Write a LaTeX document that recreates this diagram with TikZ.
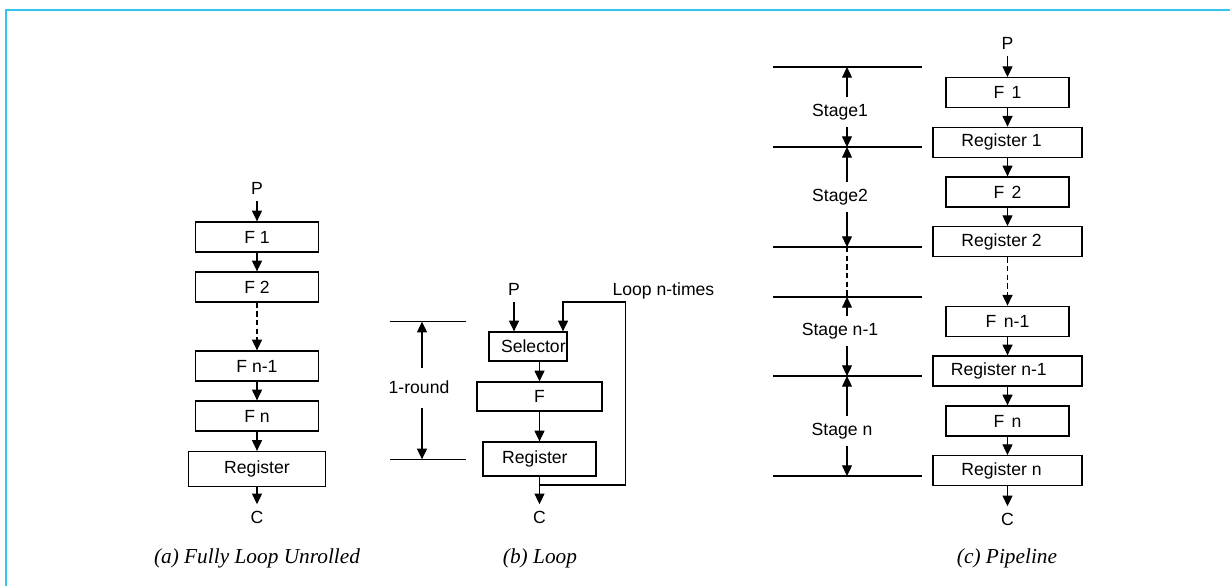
\documentclass[tikz,border=0pt]{standalone}
\usepackage{fontspec}
\setmainfont{Liberation Serif}
\setsansfont{Liberation Sans}
\usetikzlibrary{arrows.meta}
\definecolor{framecyan}{RGB}{51,197,238}
\newcommand\pxu{0.75pt}
\begin{document}
\begin{tikzpicture}[x=0.75pt,y=-0.75pt,
  line width=0.8pt,
  lbl/.style={font=\sffamily\fontsize{13.2}{15}\selectfont},
  txt/.style={lbl, inner sep=6*\pxu},
  blk/.style={lbl, draw, line width=1pt, inner sep=0pt},
  fa/.style={blk, minimum width=123*\pxu, minimum height=30*\pxu},
  ra/.style={blk, minimum width=137*\pxu, minimum height=35*\pxu},
  selbox/.style={blk, minimum width=78*\pxu, minimum height=29*\pxu},
  fb/.style={blk, minimum width=125*\pxu, minimum height=29*\pxu},
  rb/.style={blk, minimum width=113*\pxu, minimum height=34*\pxu},
  fc/.style={blk, minimum width=123*\pxu, minimum height=30*\pxu},
  rc/.style={blk, minimum width=149*\pxu, minimum height=30*\pxu},
  arr/.style={-{Triangle[length=8pt,width=7.5pt]}},
  dimarr/.style={{Triangle[length=8pt,width=7.5pt]}-{Triangle[length=8pt,width=7.5pt]}},
  dimlabel/.style={lbl, fill=white, inner xsep=2pt, inner ysep=0pt, minimum height=30*\pxu},
  tick/.style={line width=0.8pt},
  dashline/.style={dash pattern=on 4pt off 2.5pt},
  caption/.style={font=\rmfamily\itshape\fontsize{16}{18}\selectfont, inner sep=0pt}
]
\useasboundingbox (0,0) rectangle (1230,586);

% outer frame
\draw[framecyan, line width=1.5pt] (6,586) -- (6,10) -- (1230,10);

% ---------- (a) fully unrolled ----------
\node[txt] (aP) at (257,188) {P};
\node[fa] (aF1) at (257,237) {F 1};
\node[fa] (aF2) at (257,287) {F 2};
\node[fa] (aFm) at (257,366) {F n-1};
\node[fa] (aFn) at (257,416) {F n};
\node[ra] (aR) at (257,469) {Register};
\node[txt] (aC) at (257,517) {C};
\draw[arr] (aP) -- (aF1);
\draw[arr] (aF1) -- (aF2);
\draw[arr,dashline] (aF2) -- (aFm);
\draw[arr] (aFm) -- (aFn);
\draw[arr] (aFn) -- (aR);
\draw[arr] (aR) -- (aC);

% ---------- (b) iterative loop ----------
\node[txt] (bP) at (514,289) {P};
\node[selbox] (bS) at (528,346.5) {\hspace*{8pt}Selector};
\node[fb] (bF) at (539.5,396.5) {F};
\node[rb] (bR) at (539.5,459) {Register\hspace*{7pt}};
\node[txt] (bC) at (539.5,517) {C};
\node[lbl, anchor=west, inner sep=0pt] (bL) at (612,291) {Loop n-times};
\coordinate (bIn) at ([xshift=35*\pxu]bS.north);
\coordinate (bJ) at (539.5,485);
\coordinate (bT) at (625.5,302);
\draw[arr] (bP) -- (bP |- bS.north);
\draw[arr] (bS.south -| bF) -- (bF);
\draw[arr] (bF) -- (bR);
\draw[arr] (bR) -- (bC);
\draw[arr] (bJ) -| (bT) -| (bIn);

% one round dimension
\coordinate (rT) at (422,321.7);
\coordinate (rB) at (422,459.3);
\draw[tick] (390,321.7) -- (465.7,321.7);
\draw[tick] (390,459.3) -- (465.7,459.3);
\draw[dimarr] (rT) -- (rB);
\node[dimlabel, minimum height=40*\pxu] (rL) at (419,387.5) {1-round};

% ---------- (c) pipeline ----------
\foreach \yy in {67,147,247,297,376,476}
  \draw[tick] (773,\yy) -- (922,\yy);
\coordinate (s0) at (847,67);
\coordinate (s1) at (847,147);
\coordinate (s2) at (847,247);
\coordinate (s3) at (847,297);
\coordinate (s4) at (847,376);
\coordinate (s5) at (847,476);
\draw[dimarr] (s0) -- (s1);
\draw[dimarr] (s1) -- (s2);
\draw[dashline] (s2) -- (s3);
\draw[dimarr] (s3) -- (s4);
\draw[dimarr] (s4) -- (s5);
\node[dimlabel] (st1) at (840,112) {Stage1};
\node[dimlabel] (st2) at (840,196.7) {Stage2};
\node[dimlabel] (st3) at (840,331) {Stage n-1};
\node[dimlabel] (st4) at (842,431) {Stage n};

\node[txt] (cP) at (1007.5,43) {P};
\node[fc] (cF1) at (1007.5,92.7) {F\hspace{0.42em}1};
\node[rc] (cR1) at (1007.5,142.3) {Register 1\hspace*{9pt}};
\node[fc] (cF2) at (1007.5,192) {F\hspace{0.42em}2};
\node[rc] (cR2) at (1007.5,241.7) {Register 2\hspace*{9pt}};
\node[fc] (cFm) at (1007.5,321.3) {F\hspace{0.42em}n-1};
\node[rc] (cRm) at (1007.5,371) {Register n-1\hspace*{13pt}};
\node[fc] (cFn) at (1007.5,421) {F\hspace{0.42em}n};
\node[rc] (cRn) at (1007.5,470.7) {Register n\hspace*{9pt}};
\node[txt] (cC) at (1007.5,519) {C};
\draw[arr] (cP) -- (cF1);
\draw[arr] (cF1) -- (cR1);
\draw[arr] (cR1) -- (cF2);
\draw[arr] (cF2) -- (cR2);
\draw[arr,dashline] (cR2) -- (cFm);
\draw[arr] (cFm) -- (cRm);
\draw[arr] (cRm) -- (cFn);
\draw[arr] (cFn) -- (cRn);
\draw[arr] (cRn) -- (cC);

% captions
\node[caption] (capA) at (257,558) {(a) Fully Loop Unrolled};
\node[caption] (capB) at (540,558) {(b) Loop};
\node[caption] (capC) at (1007,558) {(c) Pipeline};
\end{tikzpicture}
\end{document}
